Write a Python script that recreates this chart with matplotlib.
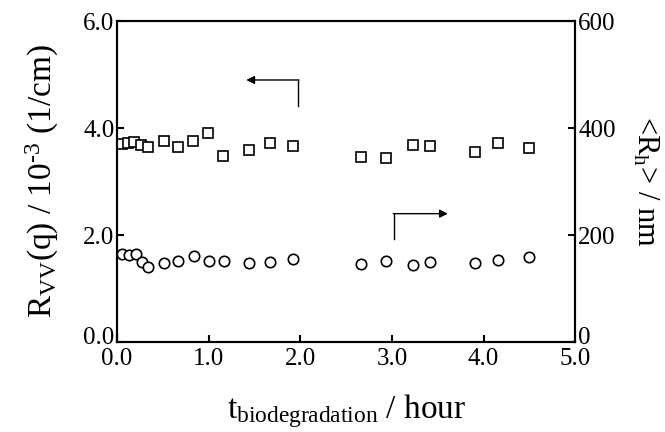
import matplotlib
matplotlib.use('Agg')
import matplotlib.pyplot as plt
import matplotlib.transforms as mtransforms
from matplotlib.ticker import FormatStrFormatter

plt.rc('font', family='Liberation Serif', size=18)
plt.rc('mathtext', fontset='custom', rm='Liberation Serif', it='Liberation Serif')

# scattered intensity R_vv(q) (squares, left axis)
t_rvv = [0.05, 0.12, 0.19, 0.26, 0.34, 0.51, 0.67, 0.83, 0.99, 1.16, 1.44,
         1.67, 1.92, 2.66, 2.94, 3.23, 3.42, 3.91, 4.16, 4.50]
rvv = [3.71, 3.73, 3.74, 3.69, 3.64, 3.75, 3.65, 3.75, 3.90, 3.47, 3.60,
       3.73, 3.66, 3.46, 3.44, 3.69, 3.67, 3.56, 3.73, 3.63]

# hydrodynamic radius <R_h> (circles, right axis)
t_rh = [0.05, 0.13, 0.21, 0.27, 0.34, 0.51, 0.67, 0.84, 1.00, 1.17, 1.44,
        1.67, 1.92, 2.66, 2.94, 3.23, 3.42, 3.91, 4.16, 4.50]
rh = [164, 162, 164, 149, 141, 148, 152, 161, 151, 151, 148, 150, 156,
      146, 152, 144, 150, 147, 154, 159]

fig = plt.figure(figsize=(6.65, 4.32), dpi=100)
ax = fig.add_axes([0.176, 0.2083, 0.689, 0.7427])
ax2 = ax.twinx()

ax.plot(t_rvv, rvv, ls='none', marker='s', ms=7, mfc='white', mec='black',
        mew=1.2, clip_on=False)
ax2.plot(t_rh, rh, ls='none', marker='o', ms=7.5, mfc='white', mec='black',
         mew=1.2, clip_on=False)

ax.set_xlim(0, 5)
ax.set_ylim(0, 6)
ax2.set_ylim(0, 600)
ax.set_xticks([0, 1, 2, 3, 4, 5])
ax.set_yticks([0, 2, 4, 6])
ax2.set_yticks([0, 200, 400, 600])
ax.xaxis.set_major_formatter(FormatStrFormatter('%.1f'))
ax.yaxis.set_major_formatter(FormatStrFormatter('%.1f'))

ax.tick_params(axis='x', direction='in', length=5, width=1.5, pad=4, top=False)
ax.tick_params(axis='y', direction='in', length=5, width=1.5, pad=2)
ax2.tick_params(axis='y', direction='in', length=5, width=1.5, pad=2)
for a in (ax, ax2):
    for s in a.spines.values():
        s.set_linewidth(1.5)

# lift the bottom y tick labels a little, as in the original
lift = mtransforms.ScaledTranslation(0, 5 / 72, fig.dpi_scale_trans)
t0 = ax.yaxis.get_major_ticks()[0].label1
t0.set_transform(t0.get_transform() + lift)
t1 = ax2.yaxis.get_major_ticks()[0].label2
t1.set_transform(t1.get_transform() + lift)

ax.set_xlabel(r'$\mathregular{t_{biodegradation}}$ / hour', fontsize=24, labelpad=16)
ax.set_ylabel(r'$\mathregular{R_{VV}(q)}$ / $\mathregular{10^{\text{-}3}}$ (1/cm)',
              fontsize=24, labelpad=16)
ax2.set_ylabel(r'<$\mathregular{R_h}$> / nm', fontsize=22, rotation=270, labelpad=32)

# arrows pointing to each axis
ax.plot([1.98, 1.98], [4.41, 4.90], color='black', lw=1)
ax.annotate('', xy=(1.41, 4.90), xytext=(1.985, 4.90),
            arrowprops=dict(arrowstyle='-|>', color='black', lw=1,
                            mutation_scale=12, shrinkA=0, shrinkB=0))
ax.plot([3.02, 3.02], [1.93, 2.40], color='black', lw=1)
ax.annotate('', xy=(3.61, 2.40), xytext=(3.015, 2.40),
            arrowprops=dict(arrowstyle='-|>', color='black', lw=1,
                            mutation_scale=12, shrinkA=0, shrinkB=0))

fig.savefig('out.png', dpi=100)
